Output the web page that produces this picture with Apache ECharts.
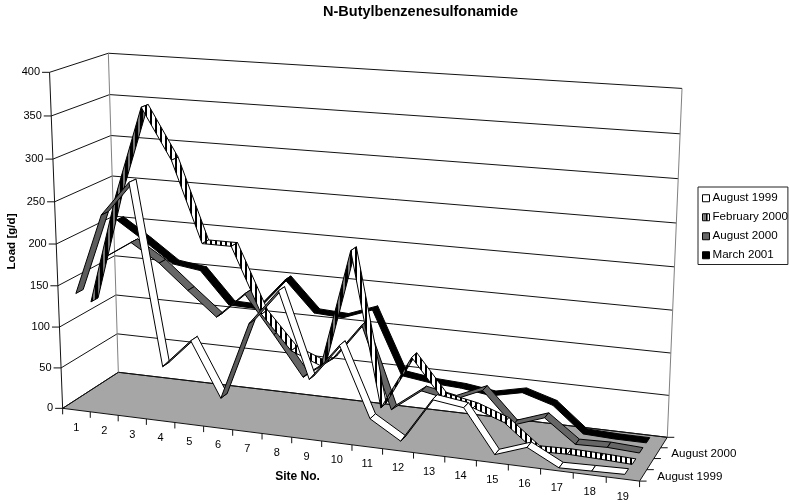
<!DOCTYPE html>
<html><head><meta charset="utf-8">
<style>html,body{margin:0;padding:0;background:#fff}#c{width:790px;height:504px}</style>
<script src="https://cdn.jsdelivr.net/npm/echarts@6/dist/echarts.min.js"></script>
</head><body><div id="c"></div>
<script>
const sites=['1','2','3','4','5','6','7','8','9','10','11','12','13','14','15','16','17','18','19'];
const yTicks=[0,50,100,150,200,250,300,350,400];
const depthLabels=['August 1999','','August 2000',''];
const aug1999=[140,237,278,63,98,33,126,168,68,112,30,8,61,56,6,19,0,1,2];
const feb2000=[120,250,358,299,204,204,127,87,73,212,31,95,51,44,31,2,3,2,0.5];
const aug2000=[165,187,165,135,106,138,92,44,70,115,17,44,37,53,16,29,2,3,1];
const mar2001=[203,180,155,150,111,110,149,112,110,123,47,42,40,35,43,32,2,0.5,0.4];
const seriesNames=['August 1999','February 2000','August 2000','March 2001'];
const seriesValues=[aug1999,feb2000,aug2000,mar2001];
const W=790,H=504,RIBBON=0.0625;
function barPattern(size,dark,light,darkWidth){const c=document.createElement('canvas');c.width=size;c.height=size;const g=c.getContext('2d');g.fillStyle=light;g.fillRect(0,0,size,size);g.fillStyle=dark;g.fillRect(0,0,darkWidth,size);return c;}
const stripe={image:barPattern(5,'#000','#fff',2),repeat:'repeat'};
const stripeDark={image:barPattern(5,'#000','#777',3),repeat:'repeat'};
const topFill=['#ffffff',stripe,'#666666','#000000'];
const underFill=['#5c5c5c',stripeDark,'#3a3a3a','#000000'];
// view calibration: [u,v,w] of the plot box -> screen
const view=[[0,0,0,63,408],[0,0,1,49.5,73],[0,1,0,118,372.7],[0,1,1,108.5,52.7],[1,1,0,666.7,437.5],[1,1,1,681.7,88.3],[1,0,0,640,481],[10/19,0,0,352,444.6],[0,0,.5,55.5,244],[1,1,.5,675,267],[0,1,.5,114,216]];
function solve(){
  const rows=[],rhs=[];
  view.forEach(([u,v,w,x,y])=>{
    rows.push([1,u,v,w,0,0,0,0,-x*u,-x*v,-x*w]);rhs.push(x);
    rows.push([0,0,0,0,1,u,v,w,-y*u,-y*v,-y*w]);rhs.push(y);
  });
  const n=11,M=[];
  for(let i=0;i<n;i++){M[i]=[];for(let j=0;j<=n;j++){let s=0;rows.forEach((r,k)=>{s+=r[i]*(j<n?r[j]:rhs[k]);});M[i][j]=s;}}
  for(let c=0;c<n;c++){let p=c;for(let r=c+1;r<n;r++)if(Math.abs(M[r][c])>Math.abs(M[p][c]))p=r;
    [M[c],M[p]]=[M[p],M[c]];
    for(let r=0;r<n;r++)if(r!==c){const f=M[r][c]/M[c][c];for(let j=c;j<=n;j++)M[r][j]-=f*M[c][j];}}
  return M.map((r,i)=>r[n]/r[i]);
}
const P=solve();
function proj(u,v,w){const d=1+P[8]*u+P[9]*v+P[10]*w;return [(P[0]+P[1]*u+P[2]*v+P[3]*w)/d,(P[4]+P[5]*u+P[6]*v+P[7]*w)/d];}
const legendStripe=()=>{const c=document.createElement('canvas');c.width=7;c.height=7;const g=c.getContext('2d');g.fillStyle='#fff';g.fillRect(0,0,7,7);g.fillStyle='#000';g.fillRect(1,0,1,7);g.fillRect(3,0,2,7);return c;};
const line=(a,b,color)=>({type:'line',shape:{x1:a[0],y1:a[1],x2:b[0],y2:b[1]},style:{stroke:color,lineWidth:1,fill:null}});
const txt=(x,y,s,align,extra)=>({type:'text',x,y,style:Object.assign({text:s,fill:'#000',font:'11px "Liberation Sans"',textAlign:align,textVerticalAlign:'middle'},extra||{})});
function frame(){
  const ch=[];
  ch.push({type:'polygon',shape:{points:[proj(0,0,0),proj(1,0,0),proj(1,1,0),proj(0,1,0)]},style:{fill:'#a6a6a6',stroke:'#111',lineWidth:1}});
  yTicks.forEach(t=>{const w=t/400;
    ch.push(line(proj(0,0,w),proj(0,1,w),'#111'));
    ch.push(line(proj(0,1,w),proj(1,1,w),'#111'));
    const a=proj(0,0,w);
    ch.push(line([a[0]-7.5,a[1]],a,'#111'));
    ch.push(txt(a[0]-9.5,a[1],String(t),'right'));
  });
  ch.push(line(proj(0,0,0),proj(0,0,1),'#111'));
  ch.push(line(proj(0,1,0),proj(0,1,1),'#808080'));
  ch.push(line(proj(1,1,0),proj(1,1,1),'#808080'));
  for(let i=0;i<=sites.length;i++){const a=proj(i/19,0,0);ch.push(line(a,[a[0],a[1]+6],'#111'));}
  sites.forEach((s,i)=>{const a=proj((i+.5)/19,0,0);ch.push(txt(a[0],a[1]+17.5,s,'center'));});
  for(let j=0;j<=4;j++){const a=proj(1,j/4,0);ch.push(line(a,[a[0]+7,a[1]],'#111'));}
  depthLabels.forEach((s,j)=>{if(!s)return;const a=proj(1,(j+.5)/4,0);ch.push(txt(a[0]+14,a[1]+1,s,'left',{font:'11.6px "Liberation Sans"'}));});
  ch.push(txt(297.5,476.5,'Site No.','center',{font:'bold 12px "Liberation Sans"'}));
  ch.push({type:'text',x:12,y:241.5,rotation:Math.PI/2,style:{text:'Load [g/d]',fill:'#000',font:'bold 11.6px "Liberation Sans"',textAlign:'center',textVerticalAlign:'middle'}});
  return {type:'group',children:ch};
}
function ribbonItem(row,values){
  const v=(row+.5)/4;
  return function(params,api){
    const i=api.value(0);if(i>=values.length-1)return null;
    const a=api.coord([i,values[i]]),b=api.coord([i+1,values[i+1]]);
    const u1=a[0]/W,w1=1-a[1]/H,u2=b[0]/W,w2=1-b[1]/H;
    const v0=v-RIBBON,v1=v+RIBBON;
    const pts=[proj(u1,v0,w1),proj(u2,v0,w2),proj(u2,v1,w2),proj(u1,v1,w1)];
    let area=0;pts.forEach((p,k)=>{const n=pts[(k+1)%4];area+=p[0]*n[1]-n[0]*p[1];});
    const under=area>0; // screen winding flips when the ribbon's underside faces the viewer
    return {type:'polygon',shape:{points:pts},style:{fill:under?underFill[row]:topFill[row],stroke:'#000',lineWidth:1}};
  };
}
const order=[3,2,1,0];
const series=[{type:'custom',name:'frame',coordinateSystem:'cartesian2d',silent:true,z:1,clip:false,data:[[0,0]],renderItem:()=>frame()}];
order.forEach((r,idx)=>series.push({type:'custom',name:seriesNames[r],coordinateSystem:'cartesian2d',silent:true,clip:false,z:2+idx,
  data:seriesValues[r].map((val,i)=>[i,val]),encode:{x:0,y:1},renderItem:ribbonItem(r,seriesValues[r])}));
const chart=echarts.init(document.getElementById('c'),null,{renderer:'canvas'});
chart.setOption({
  animation:false,backgroundColor:'#fff',
  title:{text:'N-Butylbenzenesulfonamide',left:323,top:4.5,padding:0,textStyle:{fontFamily:'Liberation Sans',fontSize:14.5,fontWeight:'bold',color:'#000'}},
  grid:{left:0,right:0,top:0,bottom:0,containLabel:false},
  xAxis:{type:'category',data:sites,show:false,boundaryGap:true},
  yAxis:{type:'value',min:0,max:400,interval:50,show:false},
  legend:{orient:'vertical',left:698,top:187,padding:[5,0,3,4],itemWidth:7,itemHeight:7,itemGap:6.5,selectedMode:false,borderColor:'#222',borderWidth:1,
    textStyle:{fontFamily:'Liberation Sans',fontSize:11.6,color:'#000',padding:[0,0,0,-2],lineHeight:12.5},
    data:seriesNames.map((n,i)=>({name:n,icon:'rect',itemStyle:{color:i===1?{image:legendStripe(),repeat:'repeat'}:topFill[i],borderColor:'#000',borderWidth:1}}))},
  series
});
</script></body></html>
